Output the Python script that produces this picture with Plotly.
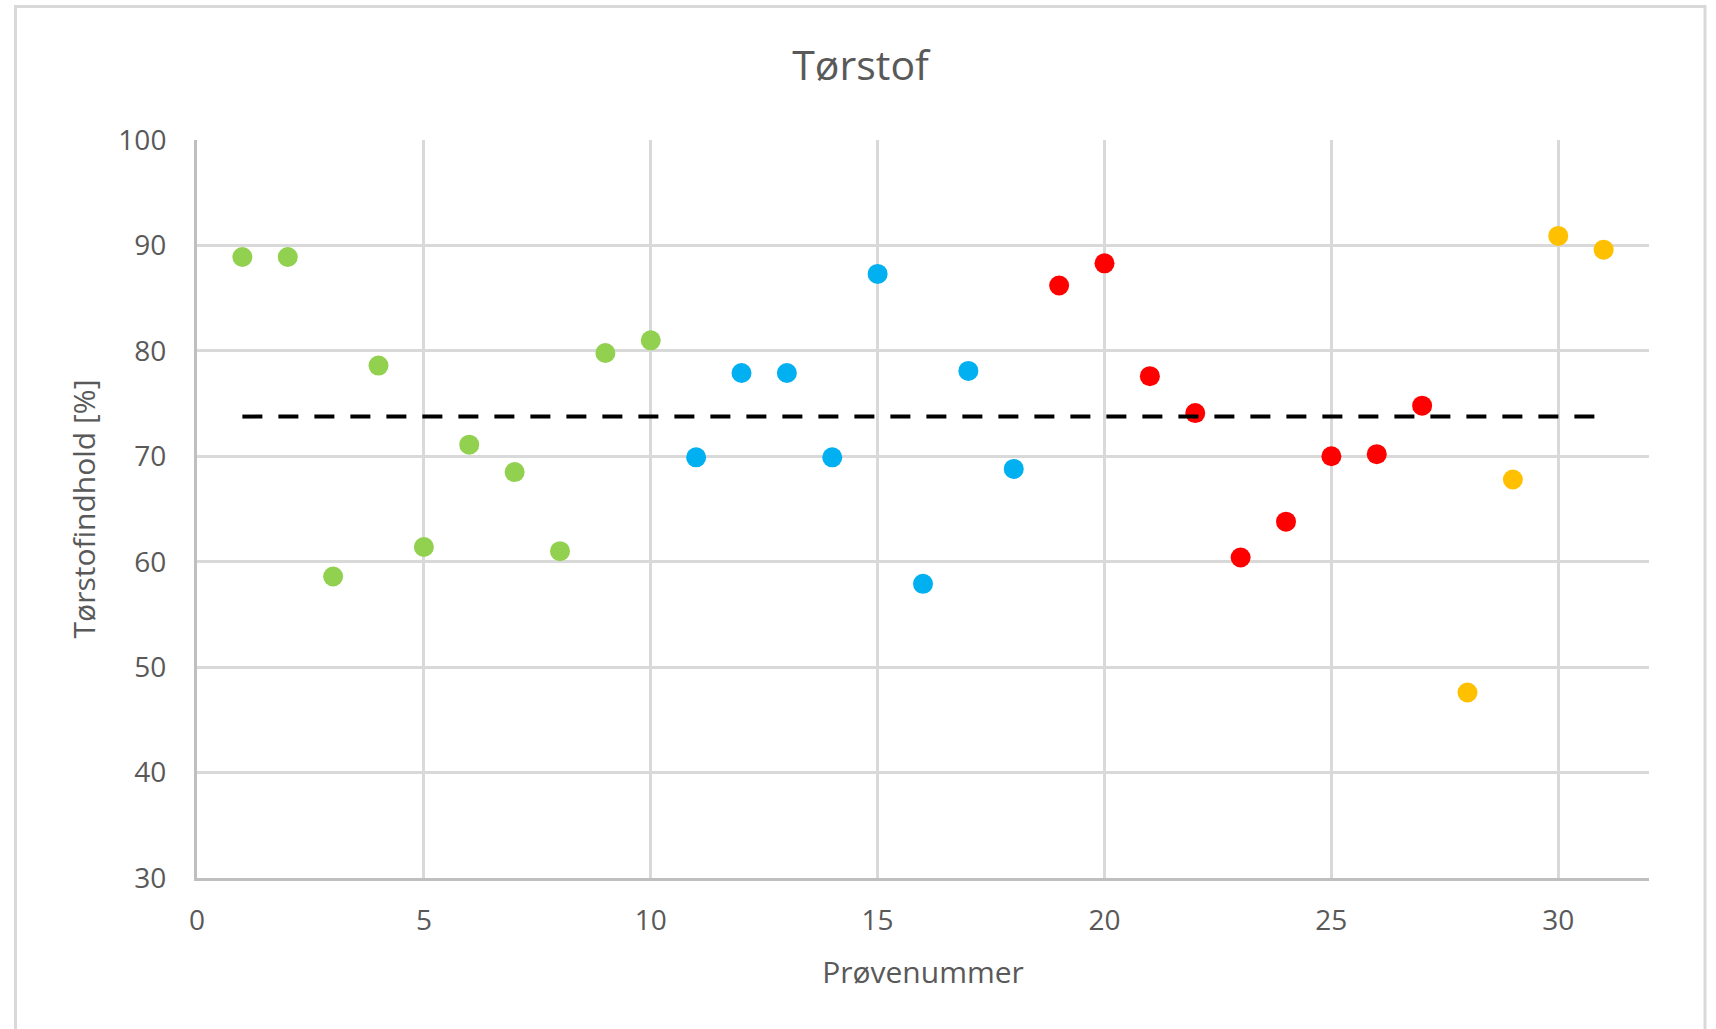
import numpy as np
import plotly.graph_objects as go

# Tørrstof per prøve, grouped by colour group
groups = ["Gruppe 1", "Gruppe 2", "Gruppe 3", "Gruppe 4"]
group_colors = ["#92D050", "#00B0F0", "#FF0000", "#FFC000"]

sample_g1 = [1, 2, 3, 4, 5, 6, 7, 8, 9, 10]
value_g1 = [88.9, 88.9, 58.6, 78.6, 61.4, 71.1, 68.5, 61.0, 79.8, 81.0]

sample_g2 = [11, 12, 13, 14, 15, 16, 17, 18]
value_g2 = [69.9, 77.9, 77.9, 69.9, 87.3, 57.9, 78.1, 68.8]

sample_g3 = [19, 20, 21, 22, 23, 24, 25, 26, 27]
value_g3 = [86.2, 88.3, 77.6, 74.1, 60.4, 63.8, 70.0, 70.2, 74.8]

sample_g4 = [28, 29, 30, 31]
value_g4 = [47.6, 67.8, 90.9, 89.6]

x_ticks = [0, 5, 10, 15, 20, 25, 30]
y_ticks = [30, 40, 50, 60, 70, 80, 90, 100]

samples = [sample_g1, sample_g2, sample_g3, sample_g4]
values = [value_g1, value_g2, value_g3, value_g4]

all_samples = sum(samples, [])
all_values = sum(values, [])
mean_value = float(np.mean(all_values))

FONT = "Open Sans"
TEXT = "#595959"
GRID = "#D9D9D9"
AXIS = "#BFBFBF"

fig = go.Figure()

for name, color, xs, ys in zip(groups, group_colors, samples, values):
    fig.add_trace(go.Scatter(
        x=xs, y=ys, mode="markers", name=name,
        marker=dict(color=color, size=20, line=dict(width=0)),
        showlegend=False,
    ))

# Mean line across all samples
fig.add_trace(go.Scatter(
    x=[min(all_samples), max(all_samples)],
    y=[mean_value, mean_value],
    mode="lines", name="Gennemsnit",
    line=dict(color="black", width=4, dash="20px,16px"),
    showlegend=False,
))

W, H = 1716, 1029
ml, mr, mt, mb = 197, 67, 140, 151
pw, ph = W - ml - mr, H - mt - mb

def px_x(p):
    return (p - ml) / pw

def px_y(p):
    return (H - mb - p) / ph

fig.update_layout(
    width=W, height=H,
    margin=dict(l=ml, r=mr, t=mt, b=mb),
    paper_bgcolor="white", plot_bgcolor="white",
    font=dict(family=FONT, color=TEXT),
    title=dict(text="Tørstof", x=0.5015, xanchor="center", y=1 - 66 / H, yanchor="middle",
               font=dict(family=FONT, size=41, color=TEXT)),
    xaxis=dict(
        range=[0, 32], tickvals=x_ticks, ticktext=[str(v) for v in x_ticks],
        showgrid=True, gridcolor=GRID, gridwidth=2.5,
        showline=True, linecolor=AXIS, linewidth=3,
        zeroline=False,
        ticks="outside", ticklen=15, tickcolor="rgba(0,0,0,0)",
        tickfont=dict(family=FONT, size=28, color=TEXT),
        title=dict(text="Prøvenummer", font=dict(family=FONT, size=30, color=TEXT), standoff=26),
    ),
    yaxis=dict(
        range=[30, 100], tickvals=y_ticks, ticktext=[str(v) for v in y_ticks],
        showgrid=True, gridcolor=GRID, gridwidth=2.5,
        showline=True, linecolor=AXIS, linewidth=3,
        zeroline=False,
        ticks="outside", ticklen=22, tickcolor="rgba(0,0,0,0)",
        tickfont=dict(family=FONT, size=28, color=TEXT),
        title=dict(text="Tørstofindhold [%]", font=dict(family=FONT, size=30, color=TEXT), standoff=14),
    ),
    shapes=[
        dict(type="rect", xref="paper", yref="paper",
             x0=px_x(15.5), x1=px_x(1705), y0=px_y(1040), y1=px_y(6.5),
             line=dict(color=GRID, width=3), fillcolor="rgba(0,0,0,0)", layer="below"),
    ],
)

fig.write_html("out.html")
